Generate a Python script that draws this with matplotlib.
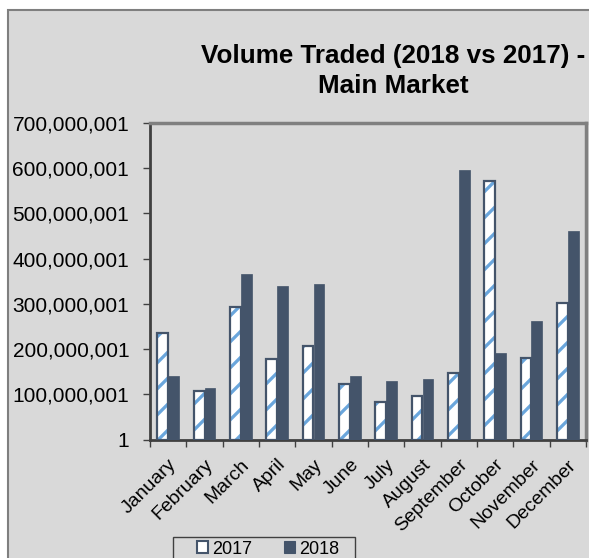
import matplotlib.pyplot as plt
import numpy as np
from matplotlib.patches import Patch, Rectangle
from matplotlib.ticker import FuncFormatter

months = ["January", "February", "March", "April", "May", "June",
          "July", "August", "September", "October", "November", "December"]
vol_2017 = [236e6, 107e6, 292e6, 178e6, 206e6, 122e6,
            83e6, 97e6, 147e6, 571e6, 181e6, 303e6]
vol_2018 = [141e6, 114e6, 365e6, 340e6, 343e6, 140e6,
            129e6, 133e6, 597e6, 192e6, 262e6, 462e6]
y_ticks = [1 + k * 100_000_000 for k in range(8)]

BG = "#d9d9d9"
DARK = "#44546a"
STRIPE = "#6aa6dc"

# a lower dpi gives tighter hatch stripes; sizes below are scaled back so
# they stay what they would be at 100 dpi
W, H = 589, 558
DPI = 78


def s(v):
    return v * 100 / DPI


plt.rcParams['font.family'] = ['Liberation Sans', 'DejaVu Sans']
plt.rcParams['hatch.linewidth'] = 3.0

fig = plt.figure(figsize=(W / DPI, H / DPI), dpi=DPI, facecolor="white")

# chart area frame, kept behind the axes
fig.patches.append(Rectangle((8 / W, -0.01), 1.0, 1 - 10 / H + 0.01,
                             transform=fig.transFigure, facecolor=BG,
                             edgecolor="#7f7f7f", linewidth=s(1.5), zorder=-1))

ax = fig.add_axes([150 / W, 1 - 439.5 / H, 436 / W, (439.5 - 123) / H])
ax.set_facecolor(BG)

x = np.arange(len(months))
bw = 0.3
# 2017: white bars with light-blue diagonal stripes and a dark outline
ax.bar(x - bw / 2, vol_2017, bw, color="white", edgecolor=STRIPE,
       hatch="/", linewidth=0, zorder=2)
ax.bar(x - bw / 2, vol_2017, bw, color="none", edgecolor=DARK,
       linewidth=s(1.6), zorder=3)
ax.bar(x + bw / 2, vol_2018, bw, color=DARK, edgecolor=DARK,
       linewidth=s(0.5), zorder=3)

ax.set_xlim(-0.5, len(months) - 0.5)
ax.set_ylim(1, 700_000_001)
ax.set_yticks(y_ticks)
ax.yaxis.set_major_formatter(FuncFormatter(lambda v, _: f"{int(round(v)):,}"))
ax.tick_params(axis="y", length=s(5), width=s(1), color="#404040", pad=s(10),
               labelsize=s(15), labelcolor="black")

# tick marks between categories, labels under each category
ax.set_xticks(np.arange(len(months) + 1) - 0.5)
ax.set_xticklabels([])
ax.set_xticks(x, minor=True)
ax.set_xticklabels(months, minor=True, rotation=45, ha="right",
                   rotation_mode="anchor", fontsize=s(14))
ax.tick_params(axis="x", which="major", length=s(5), width=s(1), color="#404040")
ax.tick_params(axis="x", which="minor", length=0, pad=s(12))

for side in ("left", "bottom"):
    ax.spines[side].set_color("#404040")
    ax.spines[side].set_linewidth(s(2))
for side in ("top", "right"):
    ax.spines[side].set_color("#808080")
    ax.spines[side].set_linewidth(s(2.5))

fig.text(393.5 / W, 1 - 44 / H, "Volume Traded (2018 vs 2017) -\nMain Market",
         ha="center", va="top", fontsize=s(18.7), fontweight="bold",
         linespacing=1.3)

# legend box along the bottom edge
fig.patches.append(Rectangle((173 / W, -0.02), 182 / W, 1 - 537 / H + 0.02,
                             transform=fig.transFigure, facecolor=BG,
                             edgecolor="#404040", linewidth=s(1), zorder=1))
handles = [Patch(facecolor="white", edgecolor=DARK, linewidth=s(1.5), label="2017"),
           Patch(facecolor=DARK, edgecolor=DARK, label="2018")]
fig.legend(handles=handles, loc="center", bbox_to_anchor=(268 / W, 1 - 549 / H),
           ncol=2, frameon=False, fontsize=s(13), handlelength=0.6,
           handleheight=0.6, handletextpad=0.2, columnspacing=1.8,
           borderpad=0)

fig.savefig("out.png", dpi=DPI, facecolor=fig.get_facecolor())
